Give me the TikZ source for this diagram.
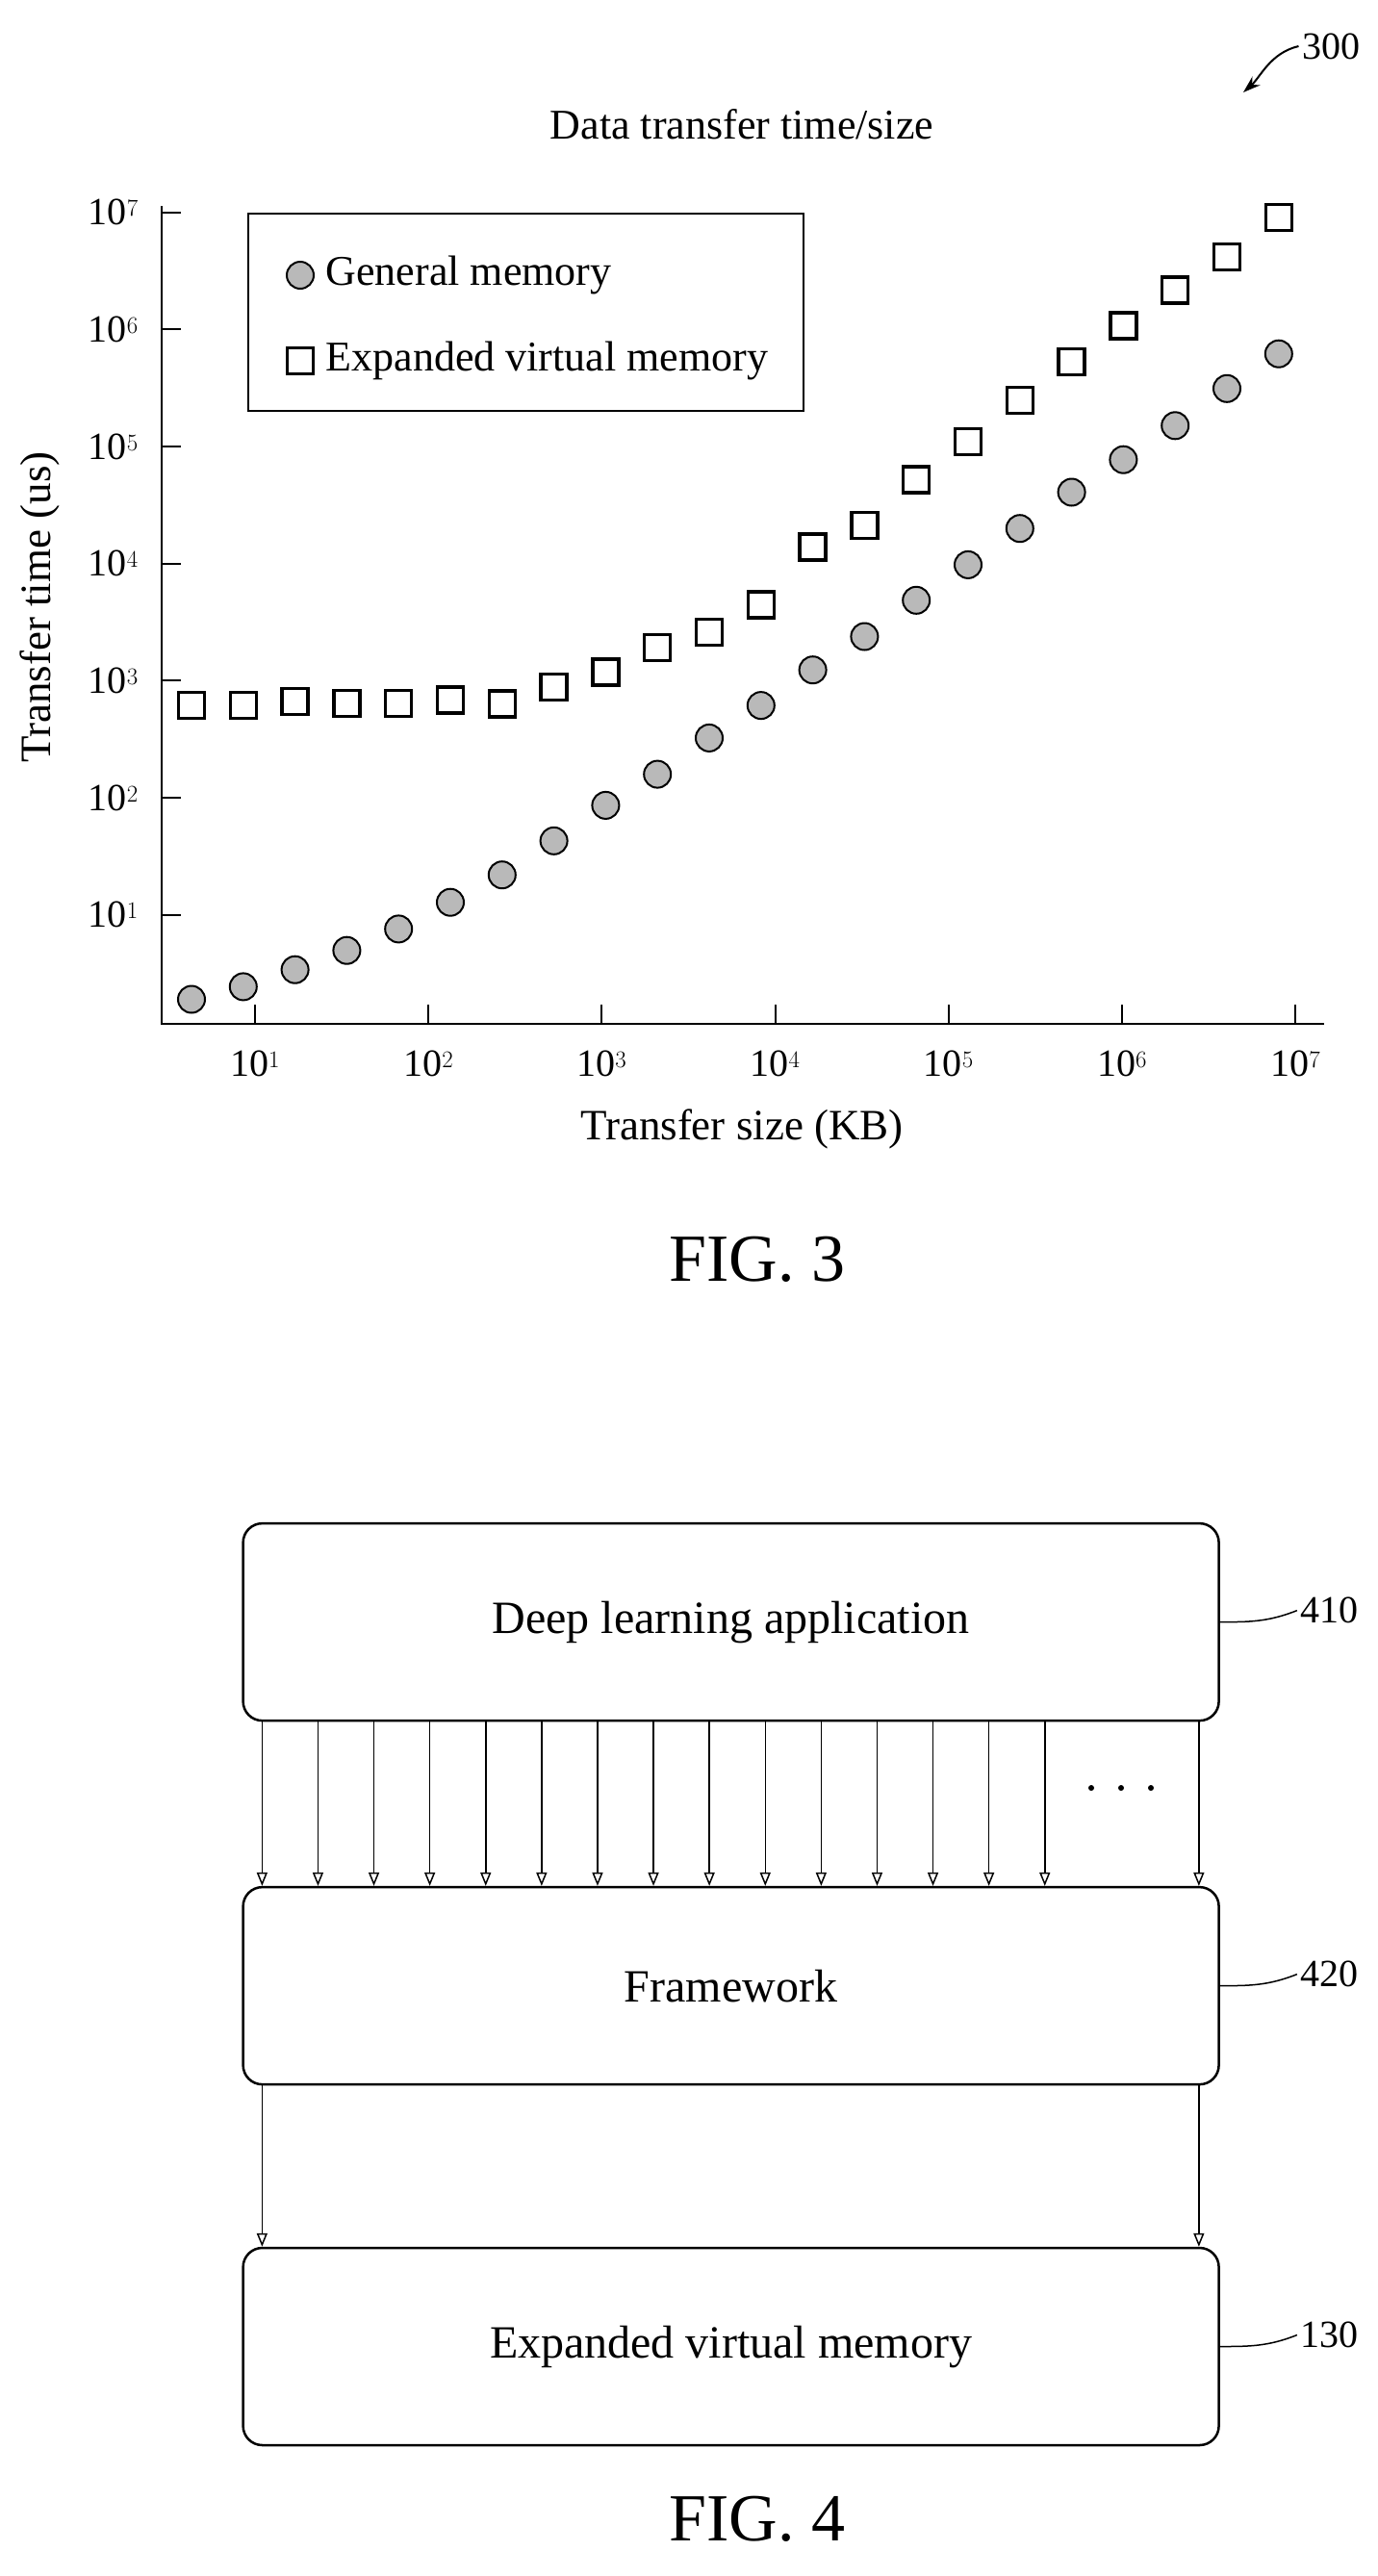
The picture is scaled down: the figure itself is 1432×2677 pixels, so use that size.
\documentclass[tikz,border=0pt]{standalone}
\usepackage{fontspec}
\setmainfont{Liberation Serif}
\usetikzlibrary{positioning, arrows.meta}

\tikzset{
  box/.style={draw, line width=2.5pt, rounded corners=20pt, minimum width=1014pt, minimum height=205pt, font=\fontsize{48}{54}\selectfont},
  gm/.style={circle, draw, line width=2pt, fill=gray!55, minimum size=28pt, inner sep=0pt},
  evm/.style={rectangle, draw, line width=3.5pt, fill=white, minimum size=27pt, inner sep=0pt},
  flow/.style={line width=1.5pt, -{Triangle[open, length=14pt, width=11pt]}},
  axis/.style={line width=2pt},
  lbl/.style={font=\fontsize{45}{50}\selectfont},
  leg/.style={font=\fontsize{44}{50}\selectfont},
  tick/.style={font=\fontsize{40}{46}\selectfont},
  dot/.style={circle, fill, minimum size=6pt, inner sep=0pt}
}

\begin{document}
\begin{tikzpicture}[x=1pt, y=-1pt]
\useasboundingbox (0,0) rectangle (1432,2677);

% FIG. 3
\node[leg] (title) at (771,129) {Data transfer time/size};
\node[tick] (n300) at (1383,48) {300};
\coordinate (a300) at (1292,96);
\draw[line width=2pt, -{Stealth[length=18pt, width=12pt]}] (n300.west) .. controls (1320,55) and (1310,80) .. (a300);

\coordinate (origin) at (168,1064);
\coordinate (ytop) at (168,214);
\coordinate (xend) at (1376,1064);
\draw[axis] (ytop) -- (origin) -- (xend);

% y ticks
\foreach \e [count=\i from 0] in {1,...,7}
  \draw[axis] (168,{950.8-121.7*\i}) -- (188,{950.8-121.7*\i})
    node[tick, anchor=east, xshift=-20pt] at (168,{950.8-121.7*\i}) {10$^{\e}$};
% x ticks
\foreach \e [count=\i from 0] in {1,...,7}
  \draw[axis] ({265+180.2*\i},1064) -- ({265+180.2*\i},1044)
    node[tick, anchor=north] at ({265+180.2*\i},1088) {10$^{\e}$};

\node[lbl, rotate=90] (ylabel) at (41,631) {Transfer time (us)};
\node[lbl] (xlabel) at (771,1173) {Transfer size (KB)};

% data
\foreach \y [count=\i from 0] in {733.1,733.1,729.2,730.8,730.8,727.7,731.5,713.8,698.5,673.1,656.9,628.5,568.5,546.2,498.5,459.2,416.2,376.2,338.5,301.5,266.9,226.2}
  \node[evm] (s\i) at ({199+53.8*\i},\y) {};
\foreach \y [count=\i from 0] in {1038.5,1025.4,1007.7,987.7,965.4,937.7,909.2,873.8,836.9,804.6,766.9,733.1,696.2,661.5,623.8,586.9,549.2,511.5,477.7,442.3,403.8,367.7}
  \node[gm] (c\i) at ({199+53.8*\i},\y) {};

% legend
\draw[line width=1.5pt] (258,222) rectangle (835,427);
\node[gm] (lgm) at (312,286) {};
\node[leg, anchor=west, right=8pt of lgm] {General memory};
\node[evm] (levm) at (312,375) {};
\node[leg, anchor=west, right=8pt of levm] {Expanded virtual memory};

\node[font=\fontsize{70}{78}\selectfont] (fig3) at (787,1309) {FIG. 3};

% FIG. 4
\node[box] (app) at (759.6,1685.6) {Deep learning application};
\node[box] (fw) at (759.6,2063.6) {Framework};
\node[box] (evmbox) at (759.6,2438.5) {Expanded virtual memory};

\foreach \i in {0,...,14}
  \draw[flow] ([xshift={21+58.1*\i}]app.south west) -- ([xshift={21+58.1*\i}]fw.north west);
\draw[flow] ([xshift=-22pt]app.south east) -- ([xshift=-22pt]fw.north east);
\foreach \x in {1134,1165,1196}
  \node[dot] at (\x,1858) {};

\draw[flow] ([xshift=21pt]fw.south west) -- ([xshift=21pt]evmbox.north west);
\draw[flow] ([xshift=-22pt]fw.south east) -- ([xshift=-22pt]evmbox.north east);

\foreach \b/\t in {app/410, fw/420, evmbox/130} {
  \node[tick, anchor=west] (l\t) at ([xshift=80pt, yshift=12pt]\b.east) {\t};
  \draw[line width=1.5pt] (\b.east) .. controls +(30,0) and +(-30,12) .. (l\t.west);
}

\node[font=\fontsize{70}{78}\selectfont] (fig4) at (787,2618) {FIG. 4};
\end{tikzpicture}
\end{document}
